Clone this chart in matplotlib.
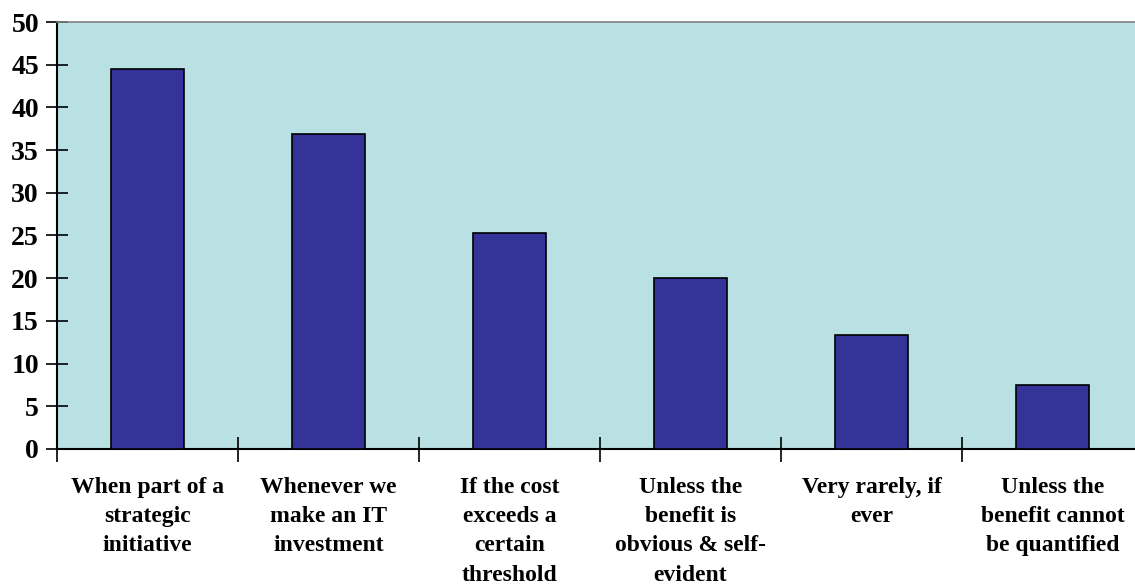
import matplotlib
matplotlib.use("Agg")
import matplotlib.pyplot as plt
import numpy as np

categories = ["When part of a\nstrategic\ninitiative",
              "Whenever we\nmake an IT\ninvestment",
              "If the cost\nexceeds a\ncertain\nthreshold",
              "Unless the\nbenefit is\nobvious & self-\nevident",
              "Very rarely, if\never",
              "Unless the\nbenefit cannot\nbe quantified"]
values = [44.5, 36.9, 25.3, 20.0, 13.3, 7.5]
yticks = [0, 5, 10, 15, 20, 25, 30, 35, 40, 45, 50]

plt.rcParams['font.family'] = ['Liberation Serif', 'DejaVu Serif']
plt.rcParams['font.weight'] = 'bold'

W, H = 1135, 588
fig = plt.figure(figsize=(W/100, H/100), dpi=100)
left, right, top, bottom = 57, 1143, 22, 449
ax = fig.add_axes([left/W, 1-bottom/H, (right-left)/W, (bottom-top)/H])
ax.set_facecolor('#b9e0e3')

x = np.arange(len(values))
ax.bar(x, values, width=0.40, color='#333399', edgecolor='black', linewidth=1.2, zorder=3)
ax.set_xlim(-0.5, len(values)-0.5)
ax.set_ylim(0, 50)

ax.set_yticks(yticks)
ax.set_yticklabels([str(v) for v in yticks], fontsize=20, fontweight='bold')
ax.tick_params(axis='y', direction='inout', length=16, width=1.2, pad=5)

ax.set_xticks(np.arange(len(values)+1)-0.5)
ax.set_xticklabels([])
ax.tick_params(axis='x', which='major', direction='inout', length=18, width=1.2)
ax.set_xticks(x, minor=True)
ax.set_xticklabels(categories, minor=True, fontsize=17, fontweight='bold', linespacing=1.52)
ax.tick_params(axis='x', which='minor', length=0, pad=20)

for s in ['left', 'bottom']:
    ax.spines[s].set_color('black')
    ax.spines[s].set_linewidth(1.5)
ax.spines['top'].set_color('#808080')
ax.spines['top'].set_linewidth(1.2)
ax.spines['right'].set_visible(False)

fig.savefig('out.png', dpi=100)
